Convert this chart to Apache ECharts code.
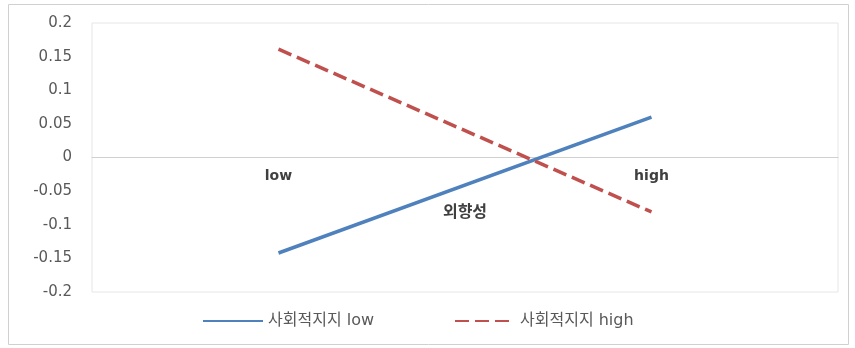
<!DOCTYPE html>
<html>
<head>
<meta charset="utf-8">
<script src="https://cdn.jsdelivr.net/npm/echarts@6/dist/echarts.min.js"></script>
<style>
  html, body { margin: 0; padding: 0; background: #fff; }
  #chart { width: 855px; height: 348px; }
</style>
</head>
<body>
<div id="chart"></div>
<script>
// data
var categories = ['low', 'high'];
var lowSupport = [-0.142, 0.06];
var highSupport = [0.161, -0.081];
var seriesNames = ['사회적지지 low', '사회적지지 high'];

var myChart = echarts.init(document.getElementById('chart'));

var font = '"DejaVu Sans", "Noto Sans CJK KR", sans-serif';
var gridTop = 23;
var gridBottom = 56;
// x axis sits on the zero line, i.e. half way up the plot
var zeroOffset = -(348 - gridTop - gridBottom) / 2;

var option = {
    animation: false,
    textStyle: { fontFamily: font },
    graphic: [
        {
            type: 'rect',
            shape: { x: 8.5, y: 4.5, width: 840, height: 340 },
            style: { fill: 'none', stroke: '#d0d0d0', lineWidth: 1 }
        }
    ],
    grid: {
        left: 92,
        right: 17,
        top: gridTop,
        bottom: gridBottom,
        outerBoundsMode: 'none',
        containLabel: false,
        show: true,
        borderColor: '#e6e6e6',
        borderWidth: 1
    },
    legend: {
        bottom: 14,
        left: 197,
        itemWidth: 60,
        itemHeight: 14,
        itemGap: 80,
        itemStyle: { opacity: 0 },
        textStyle: { fontSize: 16, color: '#595959', fontFamily: font },
        data: seriesNames
    },
    xAxis: {
        type: 'category',
        data: categories,
        name: '외향성',
        nameLocation: 'middle',
        nameGap: 45,
        nameTextStyle: { fontSize: 16, fontWeight: 'bold', color: '#404040', fontFamily: '"Noto Sans CJK KR", sans-serif' },
        offset: zeroOffset,
        axisLine: { onZero: false, lineStyle: { color: '#d0d0d0' } },
        axisTick: { show: false },
        axisLabel: { fontSize: 14, fontWeight: 'bold', color: '#404040', margin: 12 }
    },
    yAxis: {
        type: 'value',
        min: -0.2,
        max: 0.2,
        interval: 0.05,
        splitLine: { show: false },
        axisLine: { show: false },
        axisTick: { show: false },
        axisLabel: {
            fontSize: 15,
            color: '#595959',
            margin: 20,
            formatter: function (v) {
                return String(Math.round(v * 100) / 100);
            }
        }
    },
    series: [
        {
            name: seriesNames[0],
            type: 'line',
            data: lowSupport,
            symbol: 'none',
            lineStyle: { color: '#4F81BD', width: 3.5 },
            itemStyle: { color: '#4F81BD' }
        },
        {
            name: seriesNames[1],
            type: 'line',
            data: highSupport,
            symbol: 'none',
            lineStyle: { color: '#C0504D', width: 3.5, type: [14, 6] },
            itemStyle: { color: '#C0504D' }
        }
    ]
};

myChart.setOption(option);
</script>
</body>
</html>
